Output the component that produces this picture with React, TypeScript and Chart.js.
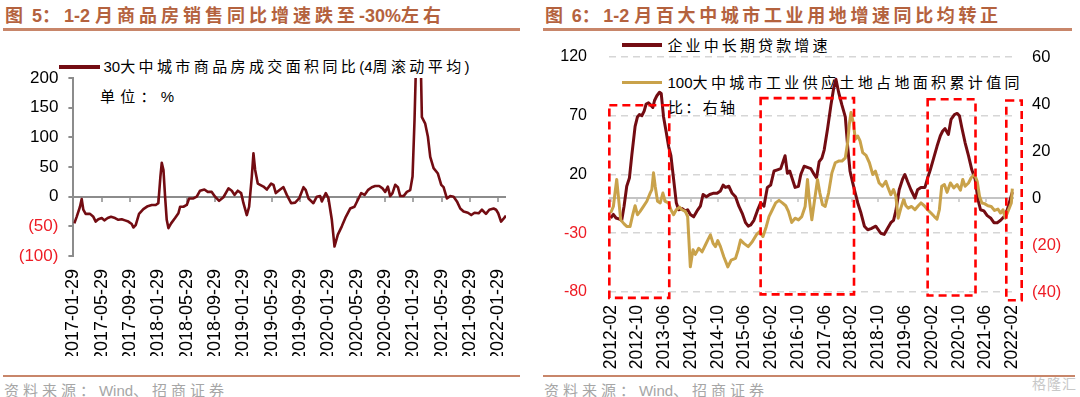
import React, { useEffect, useRef } from 'react';
import { Chart, registerables } from 'chart.js';

Chart.register(...registerables);

// ---------------- Figure 5: 30 city housing sales YoY (4-week rolling) ----------------
// x = months since 2017-01-29
const salesMonthIdx = [
  0.13, 0.46, 0.93, 1.17, 1.4, 1.73, 2.35, 2.82, 3.15, 3.52,
  4.0, 4.37, 4.84, 5.31, 5.88, 6.35, 6.82, 7.29, 7.76, 8.24,
  8.47, 8.8, 9.27, 9.88, 10.5, 11.06, 11.63, 12.0, 12.29, 12.48,
  12.72, 12.95, 13.18, 13.42, 13.8, 14.36, 14.83, 15.07, 15.54, 16.01,
  16.34, 16.95, 17.42, 17.89, 18.5, 18.98, 19.54, 20.01, 20.58, 21.19,
  21.9, 22.37, 22.75, 23.22, 23.69, 24.02, 24.49, 24.82, 25.2, 25.43,
  25.67, 26.04, 26.84, 27.32, 27.93, 28.26, 28.59,
  29.2, 29.67, 30.14, 30.75, 31.32, 31.88, 32.5, 32.82, 33.2, 33.9,
  34.38, 34.85, 35.09, 35.65, 36.03, 36.5, 36.88, 37.35, 37.91, 38.48,
  39.09, 39.7, 40.27, 40.65, 41.12, 41.59, 42.15, 42.62, 43.19, 43.66,
  44.04, 44.41, 44.74, 45.07, 45.45, 45.83, 46.16, 46.63, 47.1, 47.57,
  47.9, 48.18, 48.37, 48.7, 49.08,
  49.22, 49.69, 50.07, 50.4, 50.87, 51.48, 51.95, 52.28, 52.75,
  53.22, 53.7, 54.17, 54.64, 55.11, 55.72, 56.19, 56.66, 57.23, 57.7,
  58.27, 58.74, 59.35, 59.7, 60.0, 60.4, 60.7, 61.1,
];
const salesYoY = [
  -45, -34, -17, -4, -22, -29, -29, -34, -42, -38,
  -36, -40, -36, -34, -36, -39, -38, -40, -42, -46,
  -52, -48, -29, -21, -16, -14, -14, -11, 34, 57,
  45, 0, -39, -53, -45, -36, -28, -17, -17, -14,
  -3, -3, 0, 10, 12, 8, 8, 0, -7, -1,
  14, 10, 3, 10, 6, -11, -31, -17, 34, 73,
  45, 22, 17, 12, 22, 20, 6,
  12, 16, 3, -11, -10, -3, 16, 11, -3, -11,
  0, 1, -8, 6, -3, -39, -84, -64, -50, -34,
  -20, -17, -3, 6, 3, 11, 16, 18, 18, 14,
  8, 17, 1, 6, 20, 16, 1, 1, 8, 11,
  34, 129, 215, 300, 215,
  134, 123, 101, 67, 48, 39, 20, 16, -3,
  1, 0, -8, -20, -25, -27, -31, -27, -28, -22,
  -29, -22, -20, -22, -28, -42, -38, -32,
];
const salesTickMonths = [0, 4, 8, 12, 16, 20, 24, 28, 32, 36, 40, 44, 48, 52, 56, 60];
const salesTickLabels = [
  '2017-01-29', '2017-05-29', '2017-09-29', '2018-01-29', '2018-05-29', '2018-09-29',
  '2019-01-29', '2019-05-29', '2019-09-29', '2020-01-29', '2020-05-29', '2020-09-29',
  '2021-01-29', '2021-05-29', '2021-09-29', '2022-01-29',
];

// ---------------- Figure 6: loans vs industrial land ----------------
// x = months since 2012-02
const loanMonthIdx = [
  0, 0.8, 1.6, 2.6, 3.3, 4, 4.8, 5.6, 6.3, 7.3,
  8, 8.6, 9.3, 10, 10.6, 11.3, 12, 12.6, 13.1, 13.8,
  14.6, 15.1, 15.8, 16.6, 17.3, 18, 18.8, 19.6, 20.3, 21.3,
  22.3, 23, 23.8, 24.8, 25.8, 26.8, 27.6, 28.6, 29.6, 30.6,
  31.8, 32.8, 33.6, 34.3, 35.3, 36.3,
  37.3, 38.3, 39.3, 40.3, 41.1, 41.8, 42.8, 43.8, 44.8, 45.8,
  46.8, 47.8, 48.8, 49.8, 50.8, 52.1, 52.8, 53.5, 54.3, 55.1,
  56.1, 56.8, 57.8, 58.8, 59.8, 60.8, 61.5, 62.3, 63.1, 63.8,
  64.8, 65.8, 66.6, 67.3, 68.1, 69.1, 70.1, 70.8, 71.5, 72.3,
  73.1, 73.8, 74.8, 75.8, 76.8, 77.8,
  79.2, 80.7, 81.7, 82.7, 83.7, 84.5, 85.2, 86.2, 87.2, 87.9,
  88.7, 89.7, 90.9, 91.7, 92.7, 93.9, 94.7, 95.5, 96.5, 97.5,
  98.5, 99.2, 99.9, 100.9, 101.7, 102.7, 103.5, 104.2, 104.9, 105.9,
  106.9, 107.9, 108.9, 109.7, 110.5, 111.5, 112.5, 113.5, 114.5, 115.5,
  116.5, 117.5, 118.5, 119.5, 120,
];
const loanGrowth = [
  -17, -14, -17, -18, -19, -7, 10, 17, 36, 61,
  69, 71, 70, 74, 80, 81, 79, 77, 83, 87,
  90, 89, 69, 56, 44, 36, 16, -4, -10, -9,
  -11, -10, -14, -16, -11, -7, 3, 1, 3, 4,
  4, 6, 11, 9, 10, 4,
  1, -7, -13, -21, -24, -23, -19, -11, -4, -7,
  9, 11, 23, 24, 25, 36, 21, 23, 16, 9,
  10, 20, 27, 26, 25, 20, 17, 31, 34, 41,
  59, 79, 93, 101, 90, 79, 69, 44, 23, 13,
  4, -4, -13, -24, -27, -26,
  -24, -30, -31, -26, -21, -19, -11, 7, 16, 20,
  14, 7, 0, 7, 9, 9, 17, 24, 34, 44,
  53, 57, 59, 54, 67, 71, 72, 70, 60, 47,
  36, 24, 16, -1, -10, -11, -15, -17, -21, -21,
  -19, -16, -10, 0, 5,
];
const landMonthIdx = [
  0, 0.8, 1.8, 2.3, 3, 4, 4.8, 5.8, 6.6, 7.3,
  8, 8.8, 9.8, 10.8, 11.8, 12.3, 12.8, 13.3, 14, 14.8,
  15.6, 16.3, 17.3, 18, 18.8, 19.6, 20.6, 21.3, 22.3, 23,
  23.8, 24.6, 25.3, 26.3, 27.3, 28.3, 29, 29.8, 30.6, 31.3,
  32, 32.8, 33.8, 35, 36,
  37.3, 38.1, 38.8, 39.8, 41.1, 42.3, 43.5, 44.5, 45.5, 46.5,
  47.3, 48.3, 49.3, 50.3, 51.3, 52.3, 53.1, 54.1, 55.1, 56.1,
  57.1, 58.1, 58.8, 59.3, 60.1, 60.8, 61.8, 62.5, 63.3, 64.1,
  65.1, 66.1, 67.1, 68.1, 69.1, 70.1, 70.8, 71.3, 71.8, 72.5,
  73.1, 73.8, 74.5, 75.3, 76.3, 77.3,
  78.3, 79.1, 80.2, 81.2, 82.2, 82.9, 83.7, 84.5, 85.2, 85.9,
  86.7, 87.5, 88.2, 88.9, 89.9, 90.9, 91.9, 92.7, 93.7, 94.7,
  95.7, 96.7, 97.5, 98.2, 98.9, 99.7, 100.5, 101.5, 102.5, 103.5,
  104.5, 105.2, 105.9, 106.9, 107.7, 108.7, 109.5, 110.2, 110.9, 111.7,
  112.7, 113.7, 114.7, 115.7, 116.5, 117.2, 117.9, 118.7, 119.7, 120,
];
const landYoY = [
  -6.4, -3.6, 7.9, 0.7, -9.3, -11, -12.1, -12.1, -7.1, -3.3,
  -7.1, -5.7, -3.6, -1.4, 2.1, 3.6, 10.7, 5, -1.4, -2.1,
  2.1, -1.4, -2.1, -5, -7.1, -5, -3.9, -5, -5.7, -7.9,
  -29.3, -22, -24, -21.4, -22.9, -20, -17.9, -15.7, -19.3, -20.7,
  -18.1, -20.7, -25, -29.3, -26.4,
  -25.7, -22, -17.9, -19.3, -20.7, -18.6, -15.7, -14.3, -16.4, -12.1,
  -7.9, -5, -2.1, -1, -2.1, -3.3, -5.7, -10.4, -8.6, -9.3,
  -7.9, -3.6, 7.9, 0, -9.3, -2.1, 7.9, 2.1, -2.9, -3.6,
  2.1, 10.7, 15, 15.7, 15.7, 17.1, 23.6, 31.4, 36.4, 32,
  25, 26.4, 24.3, 19.3, 18.1, 15,
  10, 11.4, 6.4, 5, 7.1, 4.3, 1.4, 3.6, 0.7, -8.6,
  -4.3, -0.7, -3.3, -4.3, -3.6, -5, -3.3, -2.1, -3.3, -5,
  -6.4, -7.9, -9, -5, 5, 5.7, 2.4, 6.4, 4.3, 5.7,
  3.3, 7.9, 5, 6.4, 8.6, 10, 7.1, 0.7, -2.1, -2.4,
  -3.3, -3.6, -5.3, -4.7, -6.4, -5, -8.6, -5.7, -2.1, 4,
];
const fig6TickMonths = [0, 8, 16, 24, 32, 40, 48, 56, 64, 72, 80, 88, 96, 104, 112, 120];
const fig6TickLabels = [
  '2012-02', '2012-10', '2013-06', '2014-02', '2014-10', '2015-06', '2016-02', '2016-10',
  '2017-06', '2018-02', '2018-10', '2019-06', '2020-02', '2020-10', '2021-06', '2022-02',
];
// highlighted periods (red dashed boxes), in month index / left-axis units
const boxStart = [-0.4, 44.8, 94.7, 118.2];
const boxEnd = [17.5, 72.7, 109, 122.8];
const boxTop = [79, 85, 84, 83];
const boxBottom = [-85, -82, -83, -87];

// ---------------- styling ----------------
const MAROON = '#730C12';
const GOLD = '#C9A24A';
const RED = '#EE1C25';
const TITLE = '#B4623E';
const RULE = '#C8866A';
const LATIN = '"Liberation Sans", Arial, sans-serif';
const STACK = '"Liberation Sans", Arial, "Noto Sans CJK SC", sans-serif';
const CJK_RE = /[\u3000-\u303f\u3400-\u9fff\uff00-\uffef]/;

let measureCtx: CanvasRenderingContext2D | null = null;
function measure(text: string, font: string): number {
  if (!measureCtx) measureCtx = document.createElement('canvas').getContext('2d');
  if (!measureCtx) return 0;
  measureCtx.font = font;
  return measureCtx.measureText(text).width;
}

// CJK glyphs in the reference are spread out; Latin runs are not.
function Txt(props: { text: string; x: number; yc: number; w: number; size: number; bold?: boolean; color: string }) {
  const { text, x, yc, w, size, bold, color } = props;
  const weight = bold ? 'bold' : 'normal';
  const chars = Array.from(text);
  const natural = measure(text, `${weight} ${size}px ${STACK}`);
  let gaps = 0;
  chars.forEach((c, i) => {
    if (CJK_RE.test(c) && i < chars.length - 1) gaps++;
  });
  const ls = gaps > 0 ? Math.max(0, (w - natural) / gaps) : 0;
  const runs: { s: string; cjk: boolean }[] = [];
  chars.forEach((c) => {
    const cjk = CJK_RE.test(c);
    const last = runs[runs.length - 1];
    if (last && last.cjk === cjk) last.s += c;
    else runs.push({ s: c, cjk });
  });
  return (
    <div
      style={{
        position: 'absolute', left: x, top: yc - size * 0.6, height: size * 1.2,
        lineHeight: `${size * 1.2}px`, fontFamily: STACK, fontSize: size, fontWeight: weight,
        whiteSpace: 'nowrap', color,
      }}
    >
      {runs.map((r, i) => (
        <span key={i} style={{ letterSpacing: r.cjk ? `${ls}px` : '0px' }}>{r.s}</span>
      ))}
    </div>
  );
}

function Rule(props: { x1: number; x2: number; y: number; h: number; color: string }) {
  return (
    <div style={{ position: 'absolute', left: props.x1, top: props.y, width: props.x2 - props.x1, height: props.h, background: props.color }} />
  );
}

function zeroAxisPlugin(yId: string, color: string, width: number, tickLen: number) {
  return {
    id: 'zeroAxis_' + yId,
    beforeDatasetsDraw(chart: any) {
      const { ctx, chartArea, scales } = chart;
      const y = Math.round(scales[yId].getPixelForValue(0));
      ctx.save();
      ctx.strokeStyle = color;
      ctx.lineWidth = width;
      ctx.beginPath();
      ctx.moveTo(chartArea.left, y);
      ctx.lineTo(chartArea.right, y);
      ctx.stroke();
      ctx.lineWidth = 1.5;
      ctx.beginPath();
      for (const t of scales.x.ticks) {
        const x = Math.round(scales.x.getPixelForValue(t.value));
        ctx.moveTo(x, y);
        ctx.lineTo(x, y + tickLen);
      }
      ctx.stroke();
      ctx.restore();
    },
  };
}

const boxesPlugin = {
  id: 'periodBoxes',
  afterDatasetsDraw(chart: any) {
    const { ctx, scales } = chart;
    ctx.save();
    ctx.strokeStyle = '#FF0000';
    ctx.lineWidth = 2.6;
    ctx.setLineDash([8, 5]);
    for (let i = 0; i < boxStart.length; i++) {
      const x1 = scales.x.getPixelForValue(boxStart[i]);
      const x2 = scales.x.getPixelForValue(boxEnd[i]);
      const y1 = scales.yL.getPixelForValue(boxTop[i]);
      const y2 = scales.yL.getPixelForValue(boxBottom[i]);
      ctx.strokeRect(x1, y1, x2 - x1, y2 - y1);
    }
    ctx.restore();
  },
};

export default function App() {
  const leftRef = useRef<HTMLCanvasElement | null>(null);
  const rightRef = useRef<HTMLCanvasElement | null>(null);

  useEffect(() => {
    Chart.defaults.font.family = LATIN;
    Chart.defaults.color = '#000';

    const left = new Chart(leftRef.current as HTMLCanvasElement, {
      type: 'line',
      data: {
        datasets: [
          {
            label: '30大中城市商品房成交面积同比(4周滚动平均)',
            data: salesMonthIdx.map((m, i) => ({ x: m, y: salesYoY[i] })),
            borderColor: MAROON,
            borderWidth: 2.6,
            pointRadius: 0,
            tension: 0,
            fill: false,
            borderJoinStyle: 'round',
          },
        ],
      },
      options: {
        responsive: false,
        animation: false,
        maintainAspectRatio: false,
        layout: { padding: { top: 78, left: 0, right: 34, bottom: 41 } },
        plugins: { legend: { display: false }, tooltip: { enabled: false } },
        scales: {
          x: {
            type: 'linear',
            min: 0,
            max: 61.1,
            afterBuildTicks: (scale: any) => {
              scale.ticks = salesTickMonths.map((v) => ({ value: v }));
            },
            afterFit: (scale: any) => {
              scale.height = 100;
            },
            grid: { display: false, drawTicks: false },
            border: { display: false },
            ticks: {
              autoSkip: false,
              minRotation: 90,
              maxRotation: 90,
              padding: 13,
              font: { size: 18 },
              color: '#000',
              callback: (_v: any, i: number) => salesTickLabels[i],
            },
          },
          y: {
            min: -100,
            max: 200,
            afterFit: (scale: any) => {
              scale.width = 73.4;
            },
            grid: { drawOnChartArea: false, drawTicks: true, tickLength: 5, color: '#8C8C8C', lineWidth: 2 },
            border: { display: true, color: '#8C8C8C', width: 2 },
            ticks: {
              stepSize: 50,
              padding: 10,
              font: { size: 17 },
              color: (c: any) => (c.tick && c.tick.value < 0 ? RED : '#000'),
              callback: (v: any) => (Number(v) < 0 ? `(${-Number(v)})` : `${v}`),
            },
          },
        },
      },
      plugins: [zeroAxisPlugin('y', '#8C8C8C', 2, 5)],
    } as any);

    const right = new Chart(rightRef.current as HTMLCanvasElement, {
      type: 'line',
      data: {
        datasets: [
          {
            label: '企业中长期贷款增速',
            data: loanMonthIdx.map((m, i) => ({ x: m, y: loanGrowth[i] })),
            yAxisID: 'yL',
            borderColor: MAROON,
            borderWidth: 3,
            pointRadius: 0,
            tension: 0,
            fill: false,
            order: 1,
            borderJoinStyle: 'round',
          },
          {
            label: '100大中城市工业供应土地占地面积累计值同比：右轴',
            data: landMonthIdx.map((m, i) => ({ x: m, y: landYoY[i] })),
            yAxisID: 'yR',
            borderColor: GOLD,
            borderWidth: 3,
            pointRadius: 0,
            tension: 0,
            fill: false,
            order: 0,
            borderJoinStyle: 'round',
          },
        ],
      },
      options: {
        responsive: false,
        animation: false,
        maintainAspectRatio: false,
        layout: { padding: { top: 57, left: 0, right: 0, bottom: 25 } },
        plugins: { legend: { display: false }, tooltip: { enabled: false } },
        scales: {
          x: {
            type: 'linear',
            min: -0.5,
            max: 120.5,
            afterBuildTicks: (scale: any) => {
              scale.ticks = fig6TickMonths.map((v) => ({ value: v }));
            },
            afterFit: (scale: any) => {
              scale.height = 80;
            },
            grid: { display: false, drawTicks: false },
            border: { display: false },
            ticks: {
              autoSkip: false,
              minRotation: 90,
              maxRotation: 90,
              padding: 13,
              font: { size: 17.5 },
              color: '#000',
              callback: (_v: any, i: number) => fig6TickLabels[i],
            },
          },
          yL: {
            position: 'left',
            min: -80,
            max: 120,
            afterFit: (scale: any) => {
              scale.width = 69;
            },
            grid: { color: '#D6D6D6', lineWidth: 1.6, drawTicks: false },
            border: { display: false, dash: [7, 5] },
            ticks: {
              stepSize: 50,
              padding: 22,
              font: { size: 16 },
              color: (c: any) => (c.tick && c.tick.value < 0 ? RED : '#000'),
              callback: (v: any) => `${v}`,
            },
          },
          yR: {
            position: 'right',
            min: -40,
            max: 60,
            afterFit: (scale: any) => {
              scale.width = 66;
            },
            grid: { display: false, drawTicks: false },
            border: { display: false },
            ticks: {
              stepSize: 20,
              padding: 18,
              font: { size: 16.5 },
              color: (c: any) => (c.tick && c.tick.value < 0 ? RED : '#000'),
              callback: (v: any) => (Number(v) < 0 ? `(${-Number(v)})` : `${v}`),
            },
          },
        },
      },
      plugins: [zeroAxisPlugin('yL', '#C4C4C4', 2, 4), boxesPlugin],
    } as any);

    return () => {
      left.destroy();
      right.destroy();
    };
  }, []);

  return (
    <div style={{ position: 'fixed', left: 0, top: 0, width: 1080, height: 397, background: '#fff', overflow: 'hidden' }}>
      {/* Figure 5 header */}
      <Txt text="图 5：1-2 月商品房销售同比增速跌至-30%左右" x={5} yc={17} w={436} size={18} bold color={TITLE} />
      <Rule x1={3} x2={520} y={28} h={3} color={RULE} />
      {/* Figure 6 header */}
      <Txt text="图 6：1-2 月百大中城市工业用地增速同比均转正" x={545} yc={17} w={453} size={18} bold color={TITLE} />
      <Rule x1={543} x2={1072} y={28} h={3} color={RULE} />

      {/* Figure 5 legend */}
      <div style={{ position: 'absolute', left: 59, top: 65, width: 41, height: 4, background: MAROON }} />
      <Txt text="30大中城市商品房成交面积同比(4周滚动平均)" x={103.5} yc={66.5} w={366} size={15} color="#000" />
      <Txt text="单位：%" x={100} yc={97} w={74} size={15} color="#000" />

      {/* Figure 6 legend */}
      <div style={{ position: 'absolute', left: 622, top: 43, width: 40, height: 3.5, background: MAROON }} />
      <Txt text="企业中长期贷款增速" x={667.5} yc={45.5} w={160} size={15} color="#000" />
      <div style={{ position: 'absolute', left: 622, top: 80.5, width: 40, height: 3.5, background: GOLD }} />
      <Txt text="100大中城市工业供应土地占地面积累计值同" x={667.5} yc={83} w={352} size={15} color="#000" />
      <Txt text="比：右轴" x={668} yc={107.5} w={67} size={15} color="#000" />

      {/* footers */}
      <Rule x1={3} x2={520} y={374.5} h={2.5} color={RULE} />
      <Rule x1={543} x2={1075} y={374.5} h={2.5} color={RULE} />
      <Txt text="资料来源：Wind、招商证券" x={4} yc={390.5} w={220} size={15} color="#A6A6A6" />
      <Txt text="资料来源：Wind、招商证券" x={544} yc={390.5} w={220} size={15} color="#A6A6A6" />
      <Txt text="格隆汇" x={1032} yc={384} w={44} size={14} color="#C8C8C8" />

      <canvas ref={leftRef} width={540} height={397} style={{ position: 'absolute', left: 0, top: 0 }} />
      <canvas ref={rightRef} width={540} height={397} style={{ position: 'absolute', left: 540, top: 0 }} />
    </div>
  );
}
